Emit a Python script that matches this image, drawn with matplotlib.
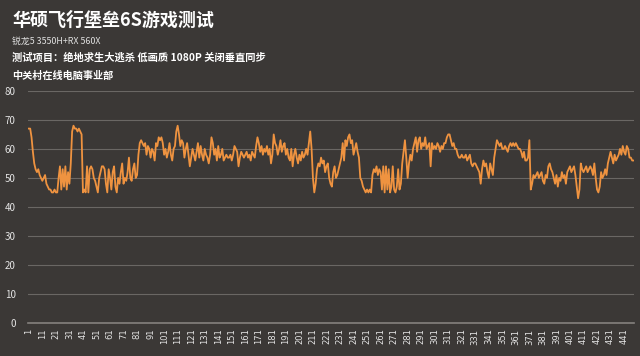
import matplotlib
matplotlib.use("Agg")
import matplotlib.pyplot as plt
import numpy as np

plt.rcParams['font.family'] = ['Noto Sans CJK SC', 'DejaVu Sans']

title = "华硕飞行堡垒6S游戏测试"
subtitle1 = "锐龙5 3550H+RX 560X"
subtitle2 = "测试项目：绝地求生大逃杀 低画质 1080P 关闭垂直同步"
subtitle3 = "中关村在线电脑事业部"

fps = [
    67, 67, 64, 59, 55, 53, 52, 53, 51, 50,
    49, 50, 51, 48, 47, 46, 46, 45, 45, 46,
    45, 45, 50, 54, 46, 53, 47, 54, 46, 52,
    48, 55, 66, 68, 67, 67, 66, 67, 66, 65,
    45, 46, 45, 54, 45, 53, 54, 53, 50, 49,
    47, 45, 50, 52, 54, 54, 53, 48, 45, 53,
    50, 46, 52, 54, 47, 45, 50, 48, 52, 55,
    48, 50, 49, 52, 57, 50, 49, 53, 55, 50,
    51, 58, 62, 63, 62, 61, 62, 58, 61, 60,
    57, 60, 59, 56, 62, 61, 64, 63, 64, 62,
    58, 60, 57, 59, 62, 58, 56, 60, 61, 66,
    68, 65, 61, 63, 62, 57, 60, 62, 58, 54,
    57, 60, 58, 56, 59, 62, 57, 61, 58, 56,
    60, 58, 57, 55, 58, 64, 62, 58, 60, 56,
    61, 57, 58, 60, 56, 57, 58, 57, 57, 58,
    56, 58, 61, 60, 59, 54, 57, 59, 58, 57,
    58, 59, 57, 58, 56, 59, 58, 57, 61, 64,
    62, 59, 61, 58, 60, 59, 61, 58, 60, 55,
    58, 65, 62, 61, 58, 60, 63, 59, 61, 62,
    58, 60, 57, 56, 60, 54, 58, 60, 57, 55,
    58, 56, 59, 57, 58, 60, 58, 62, 66, 60,
    50, 45, 48, 53, 55, 54, 57, 55, 56, 52,
    54, 55, 50, 48, 47, 52, 54, 50, 51, 53,
    55, 57, 62, 56, 63, 61, 64, 65, 62, 63,
    58, 60, 62, 59, 57, 50, 49, 47, 46, 45,
    46, 45, 46, 45, 51, 53, 52, 54, 51, 53,
    52, 46, 54, 45, 54, 46, 53, 45, 47, 54,
    46, 45, 47, 53, 46, 48, 55, 59, 63, 57,
    50, 55, 58, 56, 60, 62, 64, 59, 63, 64,
    60, 62, 61, 64, 60, 61, 62, 54, 62, 60,
    61, 60, 62, 61, 59, 61, 60, 62, 62, 64,
    65, 65, 63, 61, 62, 60, 60, 58, 57, 57,
    58, 57, 57, 58, 56, 57, 58, 55, 54, 55,
    55, 54, 53, 52, 48, 53, 56, 54, 55, 52,
    50, 55, 53, 51, 57, 60, 63, 62, 61, 62,
    60, 60, 61, 60, 59, 61, 62, 61, 62, 61,
    62, 61, 60, 60, 59, 57, 59, 56, 56, 57,
    63, 46, 48, 51, 50, 51, 52, 50, 51, 52,
    49, 48, 51, 50, 54, 55, 53, 52, 50, 48,
    51, 47, 50, 49, 52, 50, 51, 48, 52, 53,
    54, 52, 53, 54, 51, 47, 43, 46, 55, 53,
    52, 53, 54, 52, 53, 54, 53, 51, 55, 50,
    46, 45, 47, 52, 50, 51, 53, 51, 55, 57,
    59, 57, 55, 58, 56, 57, 58, 60, 58, 61,
    59, 58, 61, 60, 57, 57, 56, 56,
]
frames = list(range(1, len(fps) + 1))
xtick_labels = [str(v) for v in range(1, len(fps) + 1, 10)]
yticks = [0, 10, 20, 30, 40, 50, 60, 70, 80]

bg = '#3b3836'
fig = plt.figure(figsize=(6.4, 3.56), dpi=100, facecolor=bg)
ax = fig.add_axes([0.044, 0.0927, 0.947, 0.652], facecolor=bg)

ax.plot(frames, fps, color='#ef9340', linewidth=1.3)
ax.set_xlim(0.5, len(fps) + 0.5)
ax.set_ylim(0, 80)
ax.set_yticks(yticks)
ax.set_xticks([int(s) for s in xtick_labels])
ax.set_xticklabels(xtick_labels, rotation=90, fontsize=6, color='#e4e4e4',
                   family=['DejaVu Sans'])
ax.set_yticklabels([str(v) for v in yticks], fontsize=7, color='#e4e4e4')
ax.grid(axis='y', color='#6a6764', linewidth=0.8)
ax.set_axisbelow(True)
for s in ['top', 'right', 'left']:
    ax.spines[s].set_visible(False)
ax.spines['bottom'].set_color('#85817e')
ax.spines['bottom'].set_linewidth(1.2)
ax.tick_params(axis='both', length=0)
ax.tick_params(axis='y', pad=9)
ax.tick_params(axis='x', pad=4)

fig.text(0.019, 0.944, title, fontsize=13, fontweight='bold', color='white', va='center')
fig.text(0.019, 0.885, subtitle1, fontsize=6.4, color='#e0e0e0', va='center')
fig.text(0.019, 0.838, subtitle2, fontsize=7.4, fontweight='bold', color='white', va='center')
fig.text(0.019, 0.788, subtitle3, fontsize=7.3, fontweight='bold', color='white', va='center')

fig.savefig('out.png', dpi=100, facecolor=bg)
